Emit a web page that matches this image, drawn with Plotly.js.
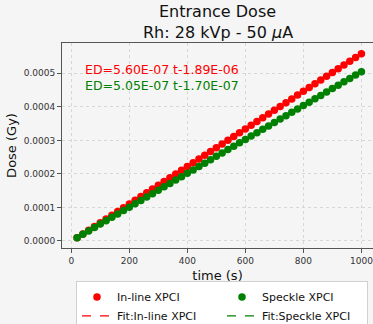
<!DOCTYPE html>
<html>
<head>
<meta charset="utf-8">
<script src="https://cdn.plot.ly/plotly-3.0.1.min.js"></script>
<style>html,body{margin:0;padding:0;background:#f5f5f5;}#chart{width:373px;height:324px;}</style>
</head>
<body>
<div id="chart"></div>
<script>
// time (s)
const time = [20,40,60,80,100,120,140,160,180,200,220,240,260,280,300,320,340,360,380,400,
  420,440,460,480,500,520,540,560,580,600,620,640,660,680,700,720,740,760,780,800,
  820,840,860,880,900,920,940,960,980,1000];
// In-line XPCI dose (Gy)
const doseInline = [9.31e-6,2.05e-5,3.17e-5,4.29e-5,5.41e-5,6.53e-5,7.65e-5,8.77e-5,9.89e-5,1.101e-4,
  1.213e-4,1.325e-4,1.437e-4,1.549e-4,1.661e-4,1.773e-4,1.885e-4,1.997e-4,2.109e-4,2.221e-4,
  2.333e-4,2.445e-4,2.557e-4,2.669e-4,2.781e-4,2.893e-4,3.005e-4,3.117e-4,3.229e-4,3.341e-4,
  3.453e-4,3.565e-4,3.677e-4,3.789e-4,3.901e-4,4.013e-4,4.125e-4,4.237e-4,4.349e-4,4.461e-4,
  4.573e-4,4.685e-4,4.797e-4,4.909e-4,5.021e-4,5.133e-4,5.245e-4,5.357e-4,5.469e-4,5.581e-4];
// Speckle XPCI dose (Gy)
const doseSpeckle = [9.93e-6,2.00e-5,3.01e-5,4.02e-5,5.03e-5,6.04e-5,7.05e-5,8.06e-5,9.07e-5,1.008e-4,
  1.109e-4,1.210e-4,1.311e-4,1.412e-4,1.513e-4,1.614e-4,1.715e-4,1.816e-4,1.917e-4,2.018e-4,
  2.119e-4,2.220e-4,2.321e-4,2.422e-4,2.523e-4,2.624e-4,2.725e-4,2.826e-4,2.927e-4,3.028e-4,
  3.129e-4,3.230e-4,3.331e-4,3.432e-4,3.533e-4,3.634e-4,3.735e-4,3.836e-4,3.937e-4,4.038e-4,
  4.139e-4,4.240e-4,4.341e-4,4.442e-4,4.543e-4,4.644e-4,4.745e-4,4.846e-4,4.947e-4,5.048e-4];
// fit lines (end points)
const fitTime = [20, 1000];
const fitInline = [9.31e-6, 5.581e-4];
const fitSpeckle = [9.93e-6, 5.048e-4];
const seriesNames = ["In-line XPCI", "Speckle XPCI", "Fit:In-line XPCI", "Fit:Speckle XPCI"];
const fitLabels = ["ED=5.60E-07 t-1.89E-06", "ED=5.05E-07 t-1.70E-07"];
const titleLines = ["Entrance Dose", "Rh: 28 kVp - 50 <i>μ</i>A"];
const xTicks = [0, 200, 400, 600, 800, 1000];
const yTicks = [0, 0.0001, 0.0002, 0.0003, 0.0004, 0.0005];

const RED = "#ff0000", GREEN = "#008000";
const FONT = "DejaVu Sans";

const traces = [
  {x: fitTime, y: fitInline, mode: "lines", name: seriesNames[2], line: {color: RED, dash: "dash", width: 1.2}, legendrank: 3},
  {x: fitTime, y: fitSpeckle, mode: "lines", name: seriesNames[3], line: {color: GREEN, dash: "dash", width: 1.2}, legendrank: 4},
  {x: time, y: doseInline, mode: "markers", name: seriesNames[0], marker: {color: RED, size: 7.5}, legendrank: 1},
  {x: time, y: doseSpeckle, mode: "markers", name: seriesNames[1], marker: {color: GREEN, size: 7.5}, legendrank: 2}
];

const axisCommon = {
  showline: true, mirror: true, linecolor: "#555", linewidth: 1,
  ticks: "outside", ticklen: 4, tickcolor: "#555",
  showgrid: true, gridcolor: "#cfcfcf", griddash: "dot", gridwidth: 0.8,
  zeroline: false, tickfont: {family: FONT, size: 9, color: "#333"},
  ticklabeloverflow: "allow"
};

const layout = {
  width: 373, height: 324,
  paper_bgcolor: "#f5f5f5", plot_bgcolor: "#f5f5f5",
  margin: {l: 62, r: 0, t: 43, b: 76, autoexpand: false},
  font: {family: FONT},
  xaxis: Object.assign({}, axisCommon, {range: [-32, 1040], tickvals: xTicks,
    title: {text: "time (s)", font: {family: FONT, size: 13, color: "#111"}, standoff: 6}}),
  yaxis: Object.assign({}, axisCommon, {range: [-2.09e-5, 5.903e-4], tickvals: yTicks, tickformat: ".4f",
    title: {text: "Dose (Gy)", font: {family: FONT, size: 13, color: "#111"}, standoff: 4}}),
  showlegend: true,
  legend: {orientation: "h", x: 0.045, xanchor: "left", y: -0.163, yanchor: "top",
    entrywidth: 100, entrywidthmode: "pixels", bgcolor: "#ffffff", bordercolor: "#d0d0d0", borderwidth: 1,
    font: {family: FONT, size: 11, color: "#111"}, traceorder: "normal"},
  annotations: [
    {text: titleLines[0], xref: "paper", yref: "paper", x: 0.5, y: 1.156, xanchor: "center", yanchor: "middle",
      showarrow: false, font: {family: FONT, size: 16, color: "#111"}},
    {text: titleLines[1], xref: "paper", yref: "paper", x: 0.5, y: 1.052, xanchor: "center", yanchor: "middle",
      showarrow: false, font: {family: FONT, size: 16, color: "#111"}},
    {text: fitLabels[0], xref: "paper", yref: "paper", x: 0.0675, y: 0.873, xanchor: "left", yanchor: "middle",
      showarrow: false, font: {family: FONT, size: 12.5, color: RED}},
    {text: fitLabels[1], xref: "paper", yref: "paper", x: 0.0675, y: 0.795, xanchor: "left", yanchor: "middle",
      showarrow: false, font: {family: FONT, size: 12.5, color: GREEN}}
  ]
};

Plotly.newPlot("chart", traces, layout, {displayModeBar: false, staticPlot: true});
</script>
</body>
</html>
